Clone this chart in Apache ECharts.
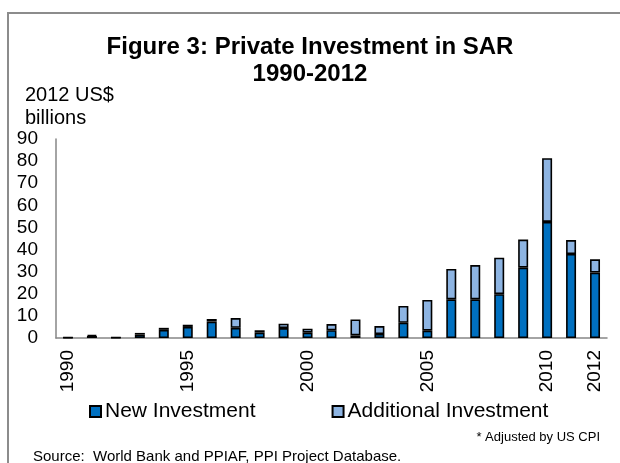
<!DOCTYPE html>
<html>
<head>
<meta charset="utf-8">
<script src="https://cdn.jsdelivr.net/npm/echarts@6/dist/echarts.min.js"></script>
<style>
html,body{margin:0;padding:0;background:#fff;}
#chart{width:620px;height:463px;}
</style>
</head>
<body>
<div id="chart"></div>
<script>
var years = ['1990','1991','1992','1993','1994','1995','1996','1997','1998','1999','2000','2001','2002','2003','2004','2005','2006','2007','2008','2009','2010','2011','2012'];
var newInvestment = [0.2,0.9,0.2,1.5,3.7,5.0,7.4,4.6,2.4,4.5,2.4,3.5,1.2,1.8,6.9,3.3,17.5,17.5,19.8,31.8,52.5,38.0,29.6];
var additionalInvestment = [0.1,0.5,0.1,0.8,0.9,1.0,1.2,4.4,1.1,2.0,1.8,2.8,7.2,3.6,7.6,13.9,13.7,15.5,16.5,12.7,28.8,6.3,6.0];
var shownYearLabels = ['1990','1995','2000','2005','2010','2012'];

var FONT = '"Liberation Sans", Arial, sans-serif';
var chart = echarts.init(document.getElementById('chart'), null, {renderer:'canvas'});
chart.setOption({
  backgroundColor:'#ffffff',
  animation:false,
  textStyle:{fontFamily:FONT,color:'#000'},
  title:[
    {text:'Figure 3: Private Investment in SAR\n1990-2012', left:'center', top:29,
     textStyle:{fontFamily:FONT,fontSize:24,fontWeight:'bold',color:'#000',lineHeight:27}},
    {text:'2012 US$\nbillions', left:20, top:79,
     textStyle:{fontFamily:FONT,fontSize:20,fontWeight:'normal',color:'#000',lineHeight:23}},
    {text:'* Adjusted by US CPI', right:15, top:424,
     textStyle:{fontFamily:FONT,fontSize:13,fontWeight:'normal',color:'#000',lineHeight:16}},
    {text:'Source:  World Bank and PPIAF, PPI Project Database.', left:28, top:444,
     textStyle:{fontFamily:FONT,fontSize:15,fontWeight:'normal',color:'#000',lineHeight:16}}
  ],
  legend:{
    left:89, top:401, padding:0, itemWidth:11, itemHeight:11, itemGap:76,
    icon:'rect',
    textStyle:{fontFamily:FONT,fontSize:21,color:'#000',padding:[0,0,0,-1]},
    data:['New Investment','Additional Investment']
  },
  graphic:[
    {type:'line', shape:{x1:8,y1:13,x2:8,y2:470}, style:{stroke:'#8c8c8c',lineWidth:2}, silent:true},
    {type:'line', shape:{x1:7,y1:13,x2:625,y2:13}, style:{stroke:'#8c8c8c',lineWidth:2}, silent:true}
  ],
  grid:{left:56, right:13, top:139, bottom:125, containLabel:false},
  xAxis:{
    type:'category', data:years,
    axisLine:{show:true,lineStyle:{color:'#868686',width:1.5}},
    axisTick:{show:false},
    axisLabel:{
      rotate:90, fontSize:19, fontFamily:FONT, color:'#000', margin:12,
      interval:function(i,v){return shownYearLabels.indexOf(v)>=0;}
    }
  },
  yAxis:{
    type:'value', min:0, max:90, interval:10,
    axisLine:{show:true,lineStyle:{color:'#868686',width:1.5}},
    axisTick:{show:false},
    splitLine:{show:false},
    axisLabel:{fontSize:19, fontFamily:FONT, color:'#000', margin:18}
  },
  series:[
    {name:'New Investment', type:'bar', stack:'total', barWidth:10, data:newInvestment,
     itemStyle:{color:'#0070C0', borderColor:'#000', borderWidth:1.6}},
    {name:'Additional Investment', type:'bar', stack:'total', barWidth:10, data:additionalInvestment,
     itemStyle:{color:'#8DB4E2', borderColor:'#000', borderWidth:1.6}}
  ]
});
</script>
</body>
</html>
